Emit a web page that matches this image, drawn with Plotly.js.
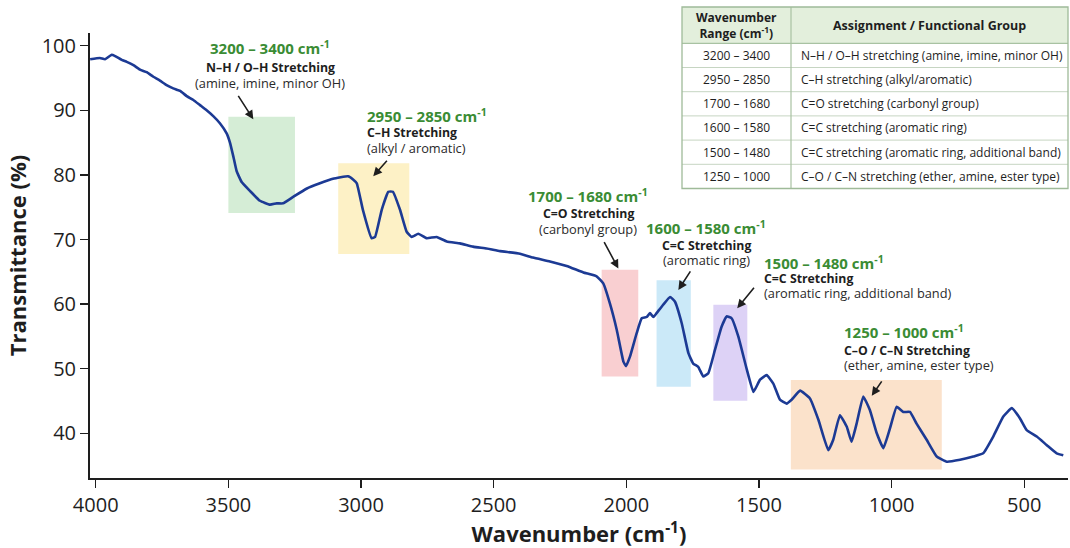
<!DOCTYPE html>
<html>
<head>
<meta charset="utf-8">
<script src="https://cdn.plot.ly/plotly-3.0.1.min.js"></script>
<style>
  html, body { margin: 0; padding: 0; background: #ffffff; }
  #chart { width: 1070px; height: 548px; }
</style>
</head>
<body>
<div id="chart"></div>
<script>
// ---------------- data ----------------
const wavenumber = [
  4021, 3984, 3965, 3940, 3927, 3902, 3883, 3858, 3833, 3808, 3783, 3758, 3733, 3708,
  3682, 3657, 3632, 3607, 3582, 3557, 3532, 3506, 3494, 3481, 3469, 3450, 3418, 3381,
  3343, 3318, 3294, 3256, 3204, 3155, 3106, 3049, 3030, 3016, 2993, 2960, 2947, 2922,
  2897, 2880, 2853, 2828, 2809, 2784, 2752, 2715, 2677, 2627, 2578, 2526, 2476, 2401,
  2352, 2288, 2225, 2162, 2112, 2087, 2062, 2036, 2011, 2001, 1986, 1961, 1942, 1923,
  1911, 1898, 1886, 1861, 1835, 1817, 1791, 1766, 1748, 1729, 1710, 1691, 1666, 1641,
  1622, 1603, 1578, 1546, 1521, 1496, 1471, 1446, 1421, 1396, 1377, 1345, 1308, 1276,
  1239, 1220, 1195, 1169, 1151, 1132, 1107, 1082, 1056, 1031, 1006, 981, 956, 931,
  906, 868, 830, 792, 742, 692, 655, 617, 579, 547, 516, 491, 453, 416, 378, 353
];
const transmittance = [
  97.9, 98.1, 97.9, 98.6, 98.4, 97.8, 97.5, 97.0, 96.3, 95.9, 95.2, 94.6, 93.9, 93.4,
  93.0, 92.2, 91.6, 90.8, 90.0, 89.1, 88.0, 86.4, 85.0, 82.8, 80.6, 78.9, 77.5, 76.0,
  75.4, 75.6, 75.6, 76.6, 77.9, 78.7, 79.4, 79.8, 79.3, 78.7, 74.6, 70.2, 70.4, 74.6,
  77.4, 77.4, 74.6, 71.2, 70.4, 70.9, 70.2, 70.4, 69.7, 69.4, 68.9, 68.6, 68.2, 67.8,
  67.2, 66.6, 65.9, 64.9, 64.3, 63.2, 60.1, 56.0, 51.1, 50.4, 51.9, 55.5, 57.8, 58.0,
  58.6, 58.0, 58.6, 59.9, 61.1, 60.4, 57.0, 52.4, 50.8, 50.3, 48.8, 49.3, 52.9, 56.5,
  58.1, 57.8, 55.0, 49.9, 46.4, 48.3, 49.0, 47.7, 45.2, 44.6, 45.2, 46.6, 45.4, 42.1,
  37.4, 39.0, 42.8, 41.0, 38.7, 41.5, 45.7, 43.6, 40.0, 37.7, 40.8, 44.1, 43.3, 43.3,
  41.5, 39.0, 36.4, 35.6, 35.9, 36.4, 36.9, 39.5, 42.6, 43.9, 42.3, 40.5, 39.5, 38.2, 36.9, 36.6
];

const xTickVals = [4000, 3500, 3000, 2500, 2000, 1500, 1000, 500];
const yTickVals = [40, 50, 60, 70, 80, 90, 100];

// highlighted bands
const bandRange = ['3200 – 3400', '2950 – 2850', '1700 – 1680', '1600 – 1580', '1500 – 1480', '1250 – 1000'];
const bandTitle = ['N–H / O–H Stretching', 'C–H Stretching', 'C=O Stretching', 'C=C Stretching', 'C=C Stretching', 'C–O / C–N Stretching'];
const bandNote = ['(amine, imine, minor OH)', '(alkyl / aromatic)', '(carbonyl group)', '(aromatic ring)', '(aromatic ring, additional band)', '(ether, amine, ester type)'];
const boxWHigh = [3500, 3086, 2093, 1886, 1672, 1380];
const boxWLow = [3249, 2818, 1955, 1757, 1544, 811];
const boxTTop = [89.0, 81.8, 65.3, 63.7, 59.9, 48.25];
const boxTBottom = [74.1, 67.75, 48.8, 47.2, 45.05, 34.4];
const arrowTipW = [3406, 2954, 2030, 1804, 1582, 1075];
const arrowTipT = [88.6, 79.8, 65.5, 62.2, 59.35, 45.8];

// table
const tableHeader = ['Wavenumber<br>Range (cm<sup>-1</sup>)', 'Assignment / Functional Group'];
const tableRanges = ['3200 – 3400', '2950 – 2850', '1700 – 1680', '1600 – 1580', '1500 – 1480', '1250 – 1000'];
const tableAssign = [
  'N–H / O–H stretching (amine, imine, minor OH)',
  'C–H stretching (alkyl/aromatic)',
  'C=O stretching (carbonyl group)',
  'C=C stretching (aromatic ring)',
  'C=C stretching (aromatic ring, additional band)',
  'C–O / C–N stretching (ether, amine, ester type)'
];

// ---------------- styling / layout ----------------
const FONT = 'Open Sans, Noto Sans, DejaVu Sans, sans-serif';
const INK = '#1e1e1e';
const boxFill = ['#d5edd6', '#fdf1c6', '#f9cfd1', '#cbe9f8', '#ddd2f6', '#fbe2cb'];
const arrowOffset = [[-16, -25], [15, -17], [-15, -28], [13, -20], [18, -22], [11, -16]];
// text block anchors in page pixels: [x, yGreen, yTitle, yNote, align]
const textPos = [
  [270, 48, 67, 83, 'center'],
  [366, 115, 133, 148, 'left'],
  [588, 195, 213, 229, 'center'],
  [706, 228, 245, 260, 'center'],
  [763, 262, 278, 293, 'left'],
  [843, 332, 350, 365, 'left']
];
// table geometry in page pixels
const TB = {x0: 682, x1: 1068, xc: 791, y0: 7, yh: 43.3, rowH: 24.2};

const W = 1070, H = 548;
const M = {l: 90, r: 2, t: 6, b: 70};
const PW = W - M.l - M.r, PH = H - M.t - M.b;
const px2paperX = p => (p - M.l) / PW;
const px2paperY = p => (H - M.b - p) / PH;

const shapes = [];
const annotations = [];
for (let i = 0; i < bandRange.length; i++) {
  shapes.push({
    type: 'rect', xref: 'x', yref: 'y', layer: 'below',
    x0: boxWHigh[i], x1: boxWLow[i], y0: boxTBottom[i], y1: boxTTop[i],
    fillcolor: boxFill[i], line: {width: 0}
  });
  const [tx, yg, yt, yn, al] = textPos[i];
  const common = {xref: 'paper', yref: 'paper', x: px2paperX(tx), xanchor: al, yanchor: 'middle',
    showarrow: false, borderpad: 0};
  annotations.push(Object.assign({}, common, {
    y: px2paperY(yg), text: '<b>' + bandRange[i] + ' cm<sup>-1</sup></b>',
    font: {family: FONT, size: 15, color: '#3a8c34'}
  }));
  annotations.push(Object.assign({}, common, {
    y: px2paperY(yt), text: '<b>' + bandTitle[i] + '</b>',
    font: {family: FONT, size: 12.3, color: INK}
  }));
  annotations.push(Object.assign({}, common, {
    y: px2paperY(yn), text: bandNote[i],
    font: {family: FONT, size: 12.8, color: '#2a2a2a'}
  }));
  annotations.push({
    xref: 'x', yref: 'y', x: arrowTipW[i], y: arrowTipT[i], text: '',
    showarrow: true, ax: arrowOffset[i][0], ay: arrowOffset[i][1],
    arrowhead: 2, arrowsize: 1.1, arrowwidth: 1.6, arrowcolor: INK
  });
}

// ---- table drawn with shapes + annotations ----
const nRows = tableRanges.length;
const yBottom = TB.yh + nRows * TB.rowH;
shapes.push({type: 'rect', xref: 'paper', yref: 'paper', layer: 'above',
  x0: px2paperX(TB.x0), x1: px2paperX(TB.x1), y0: px2paperY(TB.yh), y1: px2paperY(TB.y0),
  fillcolor: '#e3efdc', line: {width: 0}});
for (let r = 1; r < nRows; r++) {
  const yy = px2paperY(TB.yh + r * TB.rowH);
  shapes.push({type: 'line', xref: 'paper', yref: 'paper',
    x0: px2paperX(TB.x0), x1: px2paperX(TB.x1), y0: yy, y1: yy,
    line: {color: '#c6d5c2', width: 1}});
}
shapes.push({type: 'line', xref: 'paper', yref: 'paper',
  x0: px2paperX(TB.x0), x1: px2paperX(TB.x1), y0: px2paperY(TB.yh), y1: px2paperY(TB.yh),
  line: {color: '#a8c2a2', width: 1.2}});
shapes.push({type: 'line', xref: 'paper', yref: 'paper',
  x0: px2paperX(TB.xc), x1: px2paperX(TB.xc), y0: px2paperY(yBottom), y1: px2paperY(TB.y0),
  line: {color: '#a8c2a2', width: 1.2}});
shapes.push({type: 'rect', xref: 'paper', yref: 'paper',
  x0: px2paperX(TB.x0), x1: px2paperX(TB.x1), y0: px2paperY(yBottom), y1: px2paperY(TB.y0),
  fillcolor: 'rgba(0,0,0,0)', line: {color: '#9fba99', width: 1.3}});

const col1c = (TB.x0 + TB.xc) / 2, col2c = (TB.xc + TB.x1) / 2;
const hy = px2paperY((TB.y0 + TB.yh) / 2);
annotations.push({xref: 'paper', yref: 'paper', x: px2paperX(col1c), y: hy, xanchor: 'center', yanchor: 'middle',
  showarrow: false, borderpad: 0, align: 'center', text: '<b>' + tableHeader[0] + '</b>',
  font: {family: FONT, size: 12, color: INK}});
annotations.push({xref: 'paper', yref: 'paper', x: px2paperX(col2c), y: hy, xanchor: 'center', yanchor: 'middle',
  showarrow: false, borderpad: 0, text: '<b>' + tableHeader[1] + '</b>',
  font: {family: FONT, size: 12.5, color: INK}});
for (let r = 0; r < nRows; r++) {
  const yy = px2paperY(TB.yh + (r + 0.5) * TB.rowH);
  annotations.push({xref: 'paper', yref: 'paper', x: px2paperX(col1c), y: yy, xanchor: 'center', yanchor: 'middle',
    showarrow: false, borderpad: 0, text: tableRanges[r], font: {family: FONT, size: 12, color: INK}});
  annotations.push({xref: 'paper', yref: 'paper', x: px2paperX(TB.xc + 9), y: yy, xanchor: 'left', yanchor: 'middle',
    showarrow: false, borderpad: 0, text: tableAssign[r], font: {family: FONT, size: 12, color: INK}});
}

const spectrum = {
  type: 'scatter', mode: 'lines',
  x: wavenumber, y: transmittance,
  line: {color: '#1c3a94', width: 2.6, shape: 'spline', smoothing: 0.35},
  hoverinfo: 'x+y', showlegend: false
};

const axisCommon = {
  showgrid: false, zeroline: false, showline: true,
  linecolor: INK, linewidth: 2,
  ticks: 'outside', ticklen: 8, tickwidth: 1.5, tickcolor: INK,
  tickfont: {family: FONT, size: 20, color: INK}
};

const layout = {
  width: W, height: H,
  margin: M,
  paper_bgcolor: '#ffffff', plot_bgcolor: '#ffffff',
  font: {family: FONT},
  showlegend: false,
  xaxis: Object.assign({}, axisCommon, {
    range: [4021.6, 335.2],
    tickmode: 'array', tickvals: xTickVals,
    title: {text: '<b>Wavenumber (cm<sup>-1</sup>)</b>', font: {family: FONT, size: 22, color: INK}, standoff: 14}
  }),
  yaxis: Object.assign({}, axisCommon, {
    range: [33.08, 101.97],
    domain: [0, 0.9428],
    tickmode: 'array', tickvals: yTickVals,
    title: {text: '<b>Transmittance (%)</b>', font: {family: FONT, size: 22, color: INK}, standoff: 9}
  }),
  shapes: shapes,
  annotations: annotations
};

Plotly.newPlot('chart', [spectrum], layout, {displayModeBar: false, staticPlot: true});
</script>
</body>
</html>
